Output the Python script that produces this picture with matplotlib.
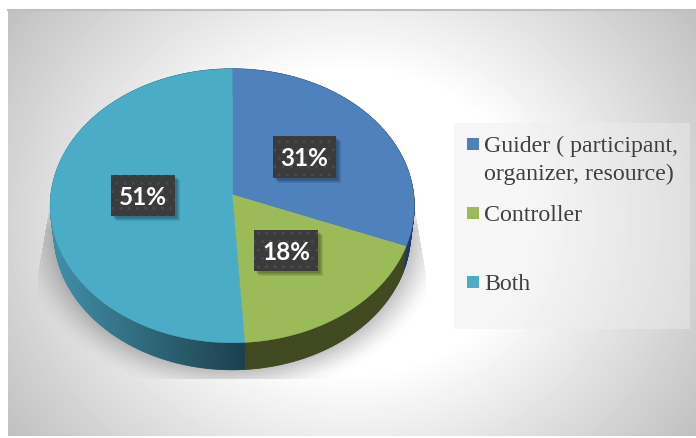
import numpy as np
import matplotlib
matplotlib.use('Agg')
import matplotlib.pyplot as plt
from matplotlib.patches import Rectangle

# data
labels = ['Guider ( participant,\norganizer, resource)', 'Controller', 'Both']
values = [31, 18, 51]
top_colors = ['#4f81bd', '#9bbb59', '#4bacc6']
legend_y = [145, 214, 283]
label_boxes = [(273, 137, 63, 42), (254, 231, 64, 41), (111, 176, 64, 41)]

W, H = 696, 439
fig = plt.figure(figsize=(W / 100, H / 100), dpi=100)
ax = fig.add_axes([0, 0, 1, 1])
ax.set_xlim(0, W)
ax.set_ylim(H, 0)
ax.axis('off')


def project(a):
    # perspective view of the unit disc, a = clockwise angle from 12 o'clock
    s, t = np.sin(a), -np.cos(a)
    d = 1 - 0.0803 * t
    return 232.3 + 181.4 * s / d, 195.8 + 136.1 * t / d


def lower(a):
    x, y = project(a)
    return 232 + (x - 232) * 0.98, y + 27


# background gradient
xx, yy = np.meshgrid(np.arange(W) + 0.5, np.arange(H) + 0.5)
r = np.sqrt(((xx - 352) / 344) ** 2 + ((yy - 223) / 300) ** 2)
grey = np.clip(1.0 - 0.34 * np.clip(r - 0.5, 0, None), 0, 1)
bg = ax.imshow(grey, cmap='gray', vmin=0, vmax=1, extent=(0, W, H, 0), aspect='auto', zorder=0)
bg.set_clip_path(Rectangle((8, 10), W - 8, 427, transform=ax.transData))
ax.plot([8, W], [10.5, 10.5], color='#bfbfbf', lw=1.5, zorder=1)

# soft shadow under the pie
e = np.sqrt(((xx - 232) / 178) ** 2 + ((yy - 233) / 137) ** 2) - 1
slant = np.clip((yy - 205) / 70, 0, 1) * 12
inside = (xx > 50 - slant) & (xx < 414 + slant) & (yy > 200) & (yy < 380)
alpha = (0.05 + 0.3 * np.clip(1 - e / 0.15, 0, 1) ** 1.2) * inside
alpha *= np.clip((yy - 200) / 30, 0, 1) * np.clip((0.2 - e) / 0.06, 0, 1)
rgba = np.zeros((H, W, 4))
rgba[..., :3] = 0.3
rgba[..., 3] = alpha
ax.imshow(rgba, extent=(0, W, H, 0), aspect='auto', zorder=2)
ax.set_xlim(0, W)
ax.set_ylim(H, 0)

# slices from the values
edges = np.cumsum([0] + values) / sum(values) * 2 * np.pi
for i, col in enumerate(top_colors):
    steps = np.linspace(edges[i], edges[i + 1], int(values[i] * 4) + 2)
    # side wall
    for a0, a1 in zip(steps[:-1], steps[1:]):
        x0, y0 = project(a0)
        x1, y1 = project(a1)
        x2, y2 = lower(a1)
        x3, y3 = lower(a0)
        if i == 0:
            c = '#1f3a66'
        elif i == 1:
            c = '#40491f'
        else:
            f = np.clip((x0 - 55) / (243 - 55), 0, 1)
            c = np.array([0x40, 0x8e, 0xa6]) * (1 - f) + np.array([0x1b, 0x41, 0x4e]) * f
            c = tuple(c / 255)
        ax.fill([x0, x1, x2, x3], [y0, y1, y2, y3], color=c, lw=0.6, zorder=3)
for i, col in enumerate(top_colors):
    steps = np.linspace(edges[i], edges[i + 1], int(values[i] * 4) + 2)
    px, py = project(steps)
    ax.fill(np.r_[232.3, px], np.r_[195.8, py], color=col, lw=0.3, zorder=4)

# value labels
for v, (bx, by, bw, bh) in zip(values, label_boxes):
    for k in range(4):
        ax.add_patch(Rectangle((bx + 5 - k, by + 5 - k), bw, bh, fc='black', alpha=0.09, lw=0, zorder=5))
    ax.add_patch(Rectangle((bx, by), bw, bh, fc='#3b3b3b', ec='#4a4a4a', hatch='..', lw=0, zorder=6))
    ax.text(bx + bw / 2, by + bh / 2 + 1, f'{v}%', color='white', family='Lato', weight='bold',
            fontsize=17.5, ha='center', va='center', zorder=7)

# legend
ax.add_patch(Rectangle((454, 124), 236, 206, fc='#eeeeee', alpha=0.44, lw=0, zorder=2))
for lab, col, ly in zip(labels, top_colors, legend_y):
    ax.add_patch(Rectangle((467, ly - 6), 12, 12, fc=col, lw=0, zorder=4))
    ax.text(484, ly + 7, lab.split('\n')[0], family='Liberation Serif', fontsize=17.2, color='#404040',
            va='baseline', zorder=4)
    if '\n' in lab:
        ax.text(484, ly + 35, lab.split('\n')[1], family='Liberation Serif', fontsize=17.2, color='#404040',
                va='baseline', zorder=4)

fig.savefig('out.png', dpi=100)
